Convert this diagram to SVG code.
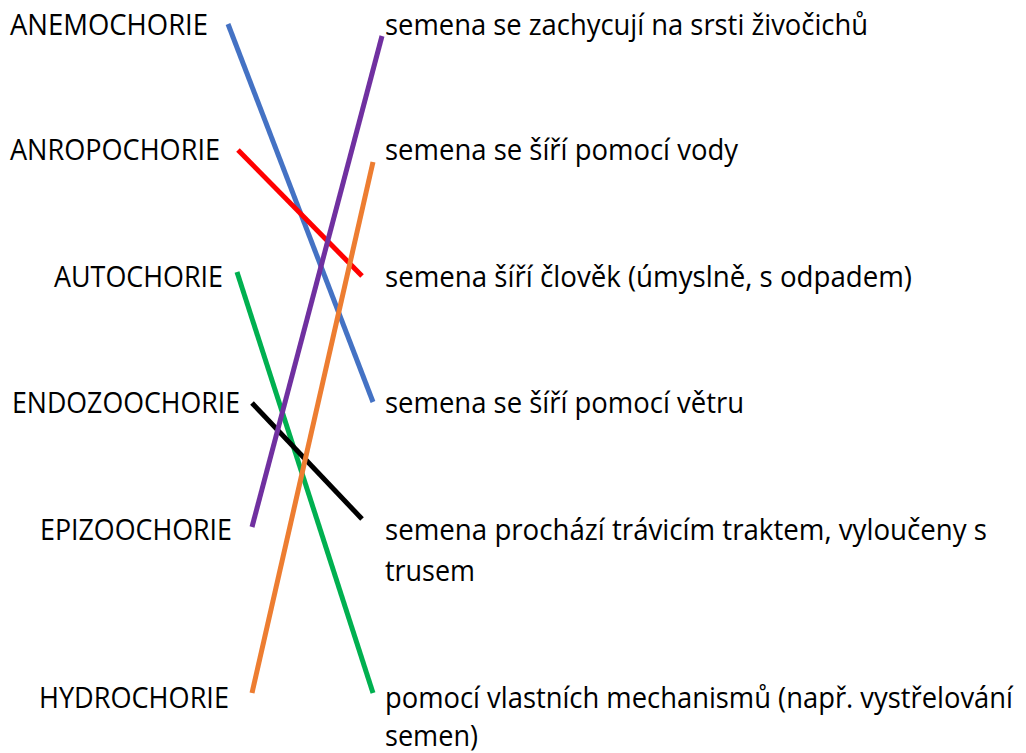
<svg xmlns="http://www.w3.org/2000/svg" width="1026" height="753" viewBox="0 0 1026 753">
<style>
text{font-family:"Open Sans","Noto Sans","Liberation Sans",sans-serif;font-size:29px;fill:#000}
.c{stroke-width:5;fill:none;stroke-linecap:butt}
</style>
<rect width="1026" height="753" fill="#fff"/>
<g id="left-anemochorie"><text x="10" y="35" textLength="198" lengthAdjust="spacingAndGlyphs">ANEMOCHORIE</text></g>
<g id="left-anropochorie"><text x="10" y="160" textLength="210" lengthAdjust="spacingAndGlyphs">ANROPOCHORIE</text></g>
<g id="left-autochorie"><text x="54" y="287" textLength="169" lengthAdjust="spacingAndGlyphs">AUTOCHORIE</text></g>
<g id="left-endozoochorie"><text x="12" y="413" textLength="228" lengthAdjust="spacingAndGlyphs">ENDOZOOCHORIE</text></g>
<g id="left-epizoochorie"><text x="40" y="540" textLength="192" lengthAdjust="spacingAndGlyphs">EPIZOOCHORIE</text></g>
<g id="left-hydrochorie"><text x="39" y="708" textLength="190" lengthAdjust="spacingAndGlyphs">HYDROCHORIE</text></g>
<g id="right-srst"><text x="385" y="35" textLength="483" lengthAdjust="spacingAndGlyphs">semena se zachycují na srsti živočichů</text></g>
<g id="right-voda"><text x="385" y="160" textLength="353" lengthAdjust="spacingAndGlyphs">semena se šíří pomocí vody</text></g>
<g id="right-clovek"><text x="385" y="287" textLength="527" lengthAdjust="spacingAndGlyphs">semena šíří člověk (úmyslně, s odpadem)</text></g>
<g id="right-vitr"><text x="385" y="413" textLength="359" lengthAdjust="spacingAndGlyphs">semena se šíří pomocí větru</text></g>
<g id="right-trakt"><text x="385" y="540" textLength="602" lengthAdjust="spacingAndGlyphs">semena prochází trávicím traktem, vyloučeny s</text><text x="385" y="581" textLength="90" lengthAdjust="spacingAndGlyphs">trusem</text></g>
<g id="right-mechanismy"><text x="385" y="708" font-size="27" textLength="628" lengthAdjust="spacingAndGlyphs">pomocí vlastních mechanismů (např. vystřelování</text><text x="385" y="746" textLength="93" lengthAdjust="spacingAndGlyphs">semen)</text></g>
<g id="connectors">
<line class="c" x1="228" y1="24" x2="373" y2="402" stroke="#4472C4"/>
<line class="c" x1="238" y1="150" x2="362" y2="276" stroke="#FF0000"/>
<line class="c" x1="237" y1="272" x2="373" y2="693" stroke="#00B050"/>
<line class="c" x1="252" y1="403" x2="362" y2="519" stroke="#000000"/>
<line class="c" x1="252" y1="527" x2="382" y2="36" stroke="#7030A0"/>
<line class="c" x1="252" y1="693" x2="373" y2="162" stroke="#ED7D31"/>
</g>
</svg>
